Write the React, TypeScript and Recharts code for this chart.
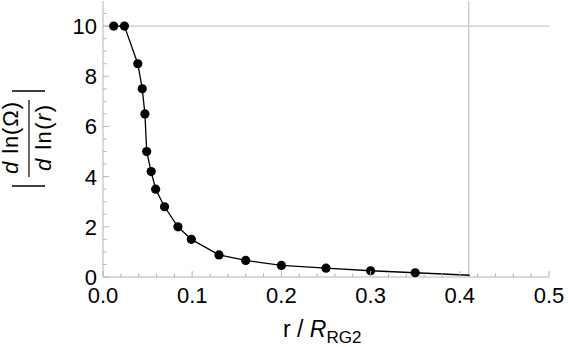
import {
  ComposedChart,
  Line,
  Scatter,
  XAxis,
  YAxis,
  ReferenceLine,
} from "recharts";

const FONT = "'Liberation Sans', Arial, sans-serif";
const FRAME = "#b4b4b4";

// measured points (r / R_RG2, |dlnΩ/dlnr|)
const pointX = [0.012, 0.024, 0.039, 0.044, 0.047, 0.049, 0.054, 0.059, 0.069, 0.084, 0.099, 0.13, 0.16, 0.2, 0.25, 0.3, 0.35];
const pointY = [10, 10, 8.5, 7.5, 6.5, 5, 4.2, 3.5, 2.8, 2.0, 1.5, 0.88, 0.66, 0.46, 0.35, 0.25, 0.17];

// curve continues past the last point to the cut-off
const curveEndX = 0.411;
const curveEndY = 0.07;

const xMajor = [0, 0.1, 0.2, 0.3, 0.4, 0.5];
const xMinor = [0.02, 0.04, 0.06, 0.08, 0.12, 0.14, 0.16, 0.18, 0.22, 0.24, 0.26, 0.28, 0.32, 0.34, 0.36, 0.38, 0.42, 0.44, 0.46, 0.48];
const yMajor = [0, 2, 4, 6, 8, 10];
const yMinor = [0.5, 1, 1.5, 2.5, 3, 3.5, 4.5, 5, 5.5, 6.5, 7, 7.5, 8.5, 9, 9.5, 10.5];

const cutoffX = 0.41;
const cutoffY = 10;

const points = pointX.map((x, i) => ({ x, y: pointY[i] }));
const curve = [...points, { x: curveEndX, y: curveEndY }];

const xTicks = [...xMajor, ...xMinor].sort((a, b) => a - b);
const yTicks = [...yMajor, ...yMinor].sort((a, b) => a - b);

const isMajor = (list: number[], v: number) => list.some((m) => Math.abs(m - v) < 1e-9);

function BottomTick({ x, y, payload }: any) {
  const major = isMajor(xMajor, payload.value);
  return (
    <g>
      <line x1={x} x2={x} y1={y} y2={y - (major ? 6 : 3.5)} stroke={FRAME} strokeWidth={1} />
      {major && (
        <text x={x} y={y + 26} textAnchor="middle" fontSize={22} fontFamily={FONT} fill="#000">
          {payload.value.toFixed(1)}
        </text>
      )}
    </g>
  );
}

function TopTick({ x, y, payload }: any) {
  const major = isMajor(xMajor, payload.value);
  return <line x1={x} x2={x} y1={y} y2={y + (major ? 6 : 3.5)} stroke={FRAME} strokeWidth={1} />;
}

function LeftTick({ x, y, payload }: any) {
  const major = isMajor(yMajor, payload.value);
  return (
    <g>
      <line x1={x} x2={x + (major ? 6 : 3.5)} y1={y} y2={y} stroke={FRAME} strokeWidth={1} />
      {major && (
        <text x={x - 6} y={y + 8} textAnchor="end" fontSize={22} fontFamily={FONT} fill="#000">
          {payload.value}
        </text>
      )}
    </g>
  );
}

function RightTick({ x, y, payload }: any) {
  const major = isMajor(yMajor, payload.value);
  return <line x1={x} x2={x - (major ? 6 : 3.5)} y1={y} y2={y} stroke={FRAME} strokeWidth={1} />;
}

function XTitle() {
  return (
    <text x={283} y={337} fontSize={23} fontFamily={FONT} fill="#000">
      r / <tspan fontStyle="italic">R</tspan>
      <tspan fontSize={17} dy={6}>RG2</tspan>
    </text>
  );
}

function YTitle() {
  return (
    <g fontFamily={FONT} fill="#000">
      <text transform="translate(18,138) rotate(-90)" textAnchor="middle" fontSize={22} textLength={72} lengthAdjust="spacing">
        <tspan fontStyle="italic">d</tspan> ln(Ω)
      </text>
      <line x1={29} x2={29} y1={100} y2={177} stroke="#000" strokeWidth={1.2} />
      <text transform="translate(51,138) rotate(-90)" textAnchor="middle" fontSize={22} textLength={66} lengthAdjust="spacing">
        <tspan fontStyle="italic">d</tspan> ln(<tspan fontStyle="italic">r</tspan>)
      </text>
      <line x1={12} x2={45} y1={91} y2={91} stroke="#000" strokeWidth={1.5} />
      <line x1={12} x2={45} y1={186} y2={186} stroke="#000" strokeWidth={1.5} />
    </g>
  );
}

export default function App() {
  return (
    <div style={{ position: "absolute", left: 0, top: 0, background: "#fff" }}>
      <ComposedChart width={568} height={347} margin={{ top: 1, right: 19, bottom: 0, left: 0 }}>
        <XAxis
          dataKey="x"
          type="number"
          domain={[0, 0.5]}
          ticks={xTicks}
          interval={0}
          height={70}
          tickSize={0}
          tickMargin={0}
          tickLine={false}
          axisLine={{ stroke: FRAME }}
          tick={<BottomTick />}
          label={<XTitle />}
        />
        <XAxis
          xAxisId="top"
          orientation="top"
          type="number"
          domain={[0, 0.5]}
          ticks={xTicks}
          interval={0}
          height={0}
          tickSize={0}
          tickMargin={0}
          tickLine={false}
          axisLine={{ stroke: FRAME }}
          tick={<TopTick />}
        />
        <YAxis
          type="number"
          domain={[0, 11]}
          ticks={yTicks}
          interval={0}
          width={103}
          tickSize={0}
          tickMargin={0}
          tickLine={false}
          axisLine={{ stroke: FRAME }}
          tick={<LeftTick />}
          label={<YTitle />}
        />
        <YAxis
          yAxisId="right"
          orientation="right"
          type="number"
          domain={[0, 11]}
          ticks={yTicks}
          interval={0}
          width={0}
          tickSize={0}
          tickMargin={0}
          tickLine={false}
          axisLine={{ stroke: FRAME }}
          tick={<RightTick />}
        />
        <ReferenceLine x={cutoffX} stroke="#c8c8c8" strokeWidth={1.3} />
        <ReferenceLine y={cutoffY} stroke="#c8c8c8" strokeWidth={1.3} />
        <Line
          data={curve}
          dataKey="y"
          type="linear"
          stroke="#000"
          strokeWidth={1.3}
          dot={false}
          activeDot={false}
          isAnimationActive={false}
        />
        <Scatter
          data={points}
          dataKey="y"
          fill="#000"
          shape={(p: any) => <circle cx={p.cx} cy={p.cy} r={4.6} fill="#000" />}
          isAnimationActive={false}
        />
      </ComposedChart>
    </div>
  );
}
